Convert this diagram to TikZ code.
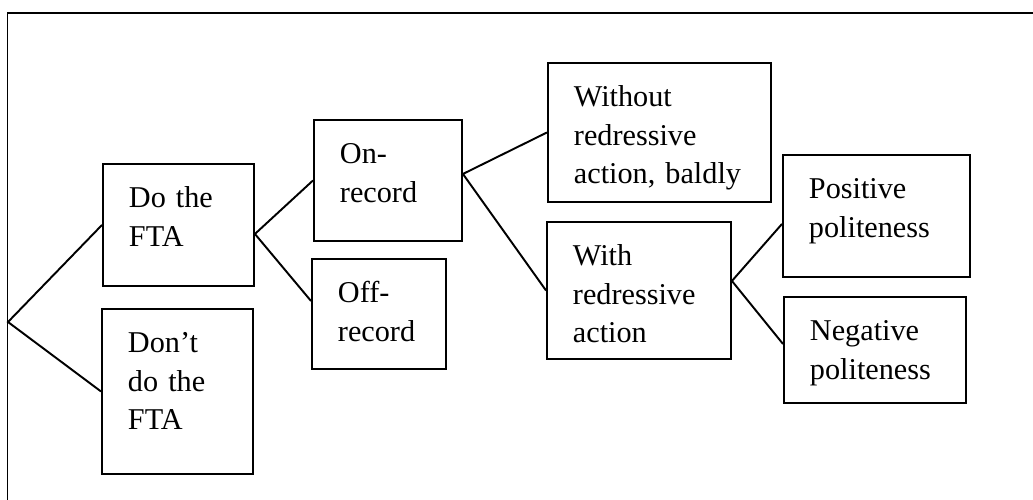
\documentclass[tikz,border=0pt]{standalone}
\usepackage{fontspec}
\setmainfont{Liberation Serif}
\usepackage{tikz}

\begin{document}
\begin{tikzpicture}[
  choice/.style={draw, line width=1.1pt, anchor=north west, align=left,
    inner xsep=0.52cm, inner ysep=0pt, text height=0.88cm,
    font=\fontsize{17.2}{21.9}\selectfont},
  branch/.style={line width=1.1pt}]
\useasboundingbox (0,0) rectangle (20.66,-10);
% frame
\draw[line width=1pt] (0.15,-10) -- (0.15,-0.26) -- (20.66,-0.26);
\coordinate (root) at (0.16,-6.44);
% first choice
\node[choice, text width=1.98cm, text depth=1.56cm] (do) at (2.04,-3.26) {Do the\\FTA};
\node[choice, text width=1.98cm, text depth=2.42cm] (dont) at (2.02,-6.16) {Don't\\do the\\FTA};
% on or off record
\node[choice, text width=1.92cm, text depth=1.54cm] (on) at (6.26,-2.38) {On-\\record};
\node[choice, text width=1.64cm, text depth=1.32cm] (off) at (6.22,-5.16) {Off-\\record};
% redress
\node[choice, text width=3.42cm, text depth=1.90cm] (without) at (10.94,-1.24) {Without\\redressive\\action, baldly};
\node[choice, text width=2.64cm, text depth=1.86cm] (with) at (10.92,-4.42) {With\\redressive\\action};
% politeness
\node[choice, text width=2.70cm, text depth=1.56cm] (pos) at (15.64,-3.08) {Positive\\politeness};
\node[choice, text width=2.60cm, text depth=1.24cm] (neg) at (15.66,-5.92) {Negative\\politeness};
% branches
\draw[branch] (do.west) -- (root) -- (dont.west);
\draw[branch] (on.west) -- ([yshift=-0.18cm]do.east) -- ([yshift=0.26cm]off.west);
\draw[branch] (without.west) -- ([yshift=0.13cm]on.east) -- (with.west);
\draw[branch] ([yshift=-0.16cm]pos.west) -- ([yshift=0.19cm]with.east) -- ([yshift=0.12cm]neg.west);
\end{tikzpicture}
\end{document}
